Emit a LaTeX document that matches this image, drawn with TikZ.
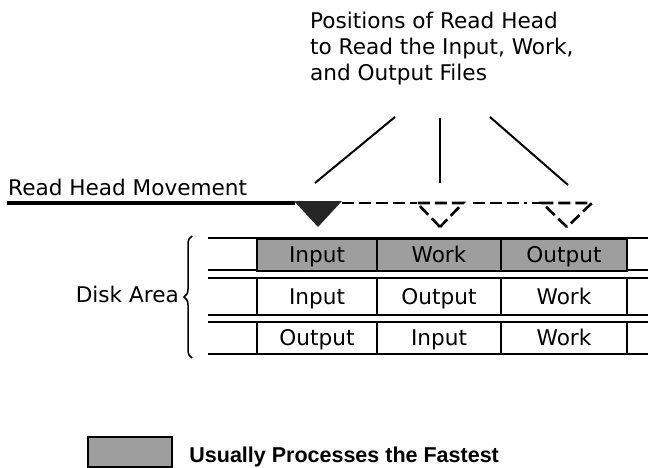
\documentclass[tikz,border=0pt]{standalone}
\usepackage{fontspec}
\setmainfont{DejaVu Sans}
\newfontfamily\keyfont{Liberation Sans}
\usepackage{tikz}
\usetikzlibrary{positioning,calc,decorations.pathreplacing}
\tikzstyle{cell} = [draw, line width=2.4pt, minimum height=32pt, inner sep=0pt, text height=15.7pt, text depth=0pt]
\tikzstyle{fast} = [fill=black!38]
\tikzstyle{track} = [line width=2.4pt]
\tikzstyle{lead} = [line width=2pt]
\tikzstyle{head} = [line width=2.6pt, line join=miter]
\tikzstyle{dashy} = [dash pattern=on 12pt off 5pt]
\tikzstyle{dashdot} = [dash pattern=on 12pt off 5pt on 12pt off 5pt on 12pt off 5pt on 3pt off 5pt]

\begin{document}
\begin{tikzpicture}[x=1pt, y=-1pt, font=\fontsize{21.6}{26}\selectfont]
	\useasboundingbox (0,0) rectangle (648,468);
	% caption and leader lines
	\node (cap) [anchor=north west, align=left, inner sep=0pt] at (310,12) {Positions of Read Head\\to Read the Input, Work,\\and Output Files};
	\coordinate (h1) at (318,203);
	\coordinate (h2) at (440,203);
	\coordinate (h3) at (567,203);
	\coordinate (l1) at (395,117);
	\coordinate (l2) at (440,118);
	\coordinate (l3) at (490,117);
	\draw [lead] (l1) -- ($(h1)+(-3,-20)$);
	\draw [lead] (l2) -- ($(h2)+(0,-20)$);
	\draw [lead] (l3) -- ($(h3)+(1,-18)$);
	% read head
	\node (move) [anchor=base west, inner sep=0pt] at (8,195) {Read Head Movement};
	\draw [line width=4pt] (7,203) -- ($(h1)+(-23,0)$);
	\fill [black!85] ($(h1)+(-24,-2)$) -- ($(h1)+(24,-2)$) -- ($(h1)+(0,24)$) -- cycle;
	\draw [head, dashy] ($(h1)+(24,0)$) -- ($(h2)+(-23,0)$);
	\draw [head, dashy] ($(h2)+(0,24)$) -- ($(h2)+(-23,0)$) -- ($(h2)+(23,0)$) -- cycle;
	\draw [head, dashdot] ($(h2)+(33,0)$) -- ($(h3)+(-25,0)$);
	\draw [head, dashy] ($(h3)+(0,24)$) -- ($(h3)+(-25,0)$) -- ($(h3)+(25,0)$) -- cycle;
	% disk area
	\foreach \y in {238,270,278,315,322,354}
		\draw [track] (208,\y) -- (648,\y);
	\foreach \n/\xc/\w/\txt in {a/317/120pt/Input, b/439/124pt/Work, c/564/126pt/Output}
		\node (r1\n) [cell, fast, minimum width=\w] at (\xc,255) {\txt};
	\foreach \n/\xc/\w/\txt in {a/317/120pt/Input, b/439/124pt/Output, c/564/126pt/Work}
		\node (r2\n) [cell, minimum width=\w, minimum height=37pt] at (\xc,296.5) {\txt};
	\foreach \n/\xc/\w/\txt in {a/317/120pt/Output, b/439/124pt/Input, c/564/126pt/Work}
		\node (r3\n) [cell, minimum width=\w] at (\xc,338) {\txt};
	\draw [decorate, decoration={brace, amplitude=8pt}, line width=1.5pt] (192,358) -- (192,236);
	\coordinate (tip) at (184,294);
	\node (disk) [left=5pt of tip, inner sep=0pt] {Disk Area};
	% key
	\node (key) [draw, fast, line width=2.4pt, minimum width=84pt, minimum height=30pt] at (130,452) {};
	\node (keytext) [anchor=base west, inner sep=0pt, font={\keyfont\bfseries\fontsize{21.5}{26}\selectfont}] at ($(key.east)+(16,10)$) {Usually Processes the Fastest};
\end{tikzpicture}
\end{document}
